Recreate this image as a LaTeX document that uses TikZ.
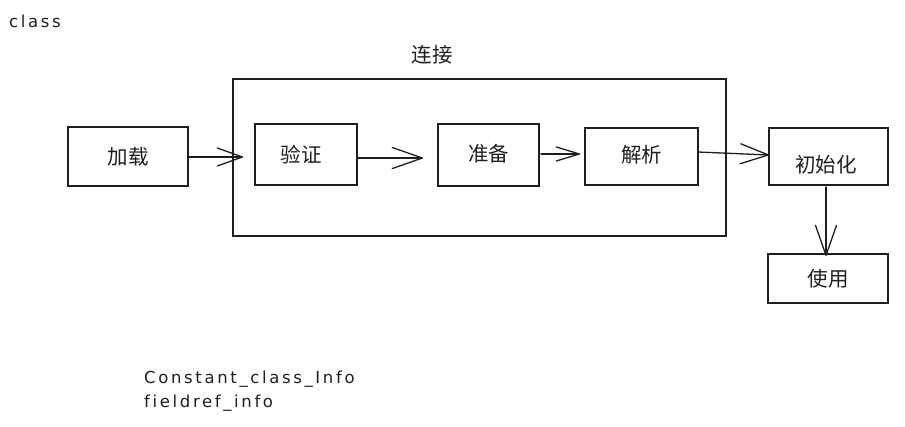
\documentclass[tikz,border=0pt]{standalone}
\usepackage{fontspec}
\newfontfamily\cjk{Noto Sans CJK SC}
\newfontfamily\hand[LetterSpace=16, Ligatures=NoCommon]{DejaVu Sans}
\usetikzlibrary{arrows.meta}
\definecolor{ink}{HTML}{1E1E1E}
\tikzset{
  box/.style={draw=ink, line width=1.3pt, inner sep=0pt, minimum width=#1},
  cjklabel/.style={text=ink, font=\cjk\fontsize{20.5}{24}\selectfont, inner sep=0pt},
  note/.style={text=ink, font=\hand\fontsize{16.5}{24}\selectfont, inner sep=0pt, anchor=west},
  flow/.style 2 args={draw=ink, line width=1.3pt, line cap=round,
    -{Straight Barb[length=#1, width=#2, line width=1.3pt, round]}}
}
\begin{document}
\begin{tikzpicture}[x=1pt, y=-1pt]
  \useasboundingbox (0,0) rectangle (905,426);

  % stray note at the top left
  \node[note] (classnote) at (9,21) {class};

  % linking stage container and its title
  \node[box=493pt, minimum height=157pt] (lianjie) at (479.5,157.5) {};
  \node[cjklabel] (lianjietitle) at (432,55) {连接};

  % stage boxes
  \node[box=120pt, minimum height=59pt] (jiazai)     at (128,156.5) {};
  \node[box=102pt, minimum height=61pt] (yanzheng)   at (306,154.5) {};
  \node[box=101pt, minimum height=62pt] (zhunbei)    at (488.5,155) {};
  \node[box=113pt, minimum height=57pt] (jiexi)      at (641.5,156.5) {};
  \node[box=119pt, minimum height=57pt] (chushihua)  at (828.5,156.5) {};
  \node[box=120pt, minimum height=49pt] (shiyong)    at (828,278.5) {};

  % stage names
  \node[cjklabel] (tjiazai)    at (128,157)   {加载};
  \node[cjklabel] (tyanzheng)  at (301,155)   {验证};
  \node[cjklabel] (tzhunbei)   at (488.5,154) {准备};
  \node[cjklabel] (tjiexi)     at (641.5,155) {解析};
  \node[cjklabel] (tchushihua) at (826,165)   {初始化};
  \node[cjklabel] (tshiyong)   at (828,279)   {使用};

  % arrow ends that stop short of the next box
  \coordinate (s1) at (188,157);
  \coordinate (e1) at (243,157);
  \coordinate (s2) at (357,158);
  \coordinate (e2) at (423,158);
  \coordinate (s3) at (541,154);
  \coordinate (e3) at (580,154);
  \coordinate (s4) at (698,152);
  \coordinate (e4) at (769,155);
  \coordinate (s5) at (826,187);
  \coordinate (e5) at (826,256);

  \draw[flow={25pt}{18pt}] (s1) -- (e1);
  \draw[flow={30pt}{21pt}] (s2) -- (e2);
  \draw[flow={23pt}{14pt}] (s3) -- (e3);
  \draw[flow={28pt}{20pt}] (s4) -- (e4);
  \draw[flow={30pt}{21pt}] (s5) -- (e5);

  % constant pool entry names
  \node[note] (cpool1) at (144,379) {Constant\_class\_Info};
  \node[note] (cpool2) at (144,403) {fieldref\_info};
\end{tikzpicture}
\end{document}
